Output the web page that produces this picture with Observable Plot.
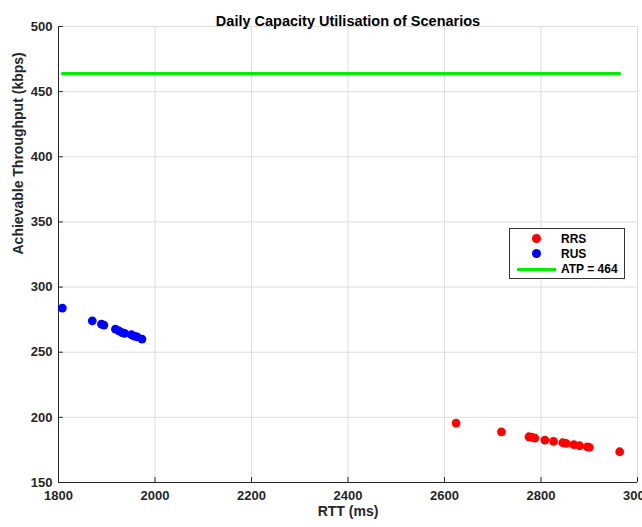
<!DOCTYPE html>
<html>
<head>
<meta charset="utf-8">
<script src="https://cdn.jsdelivr.net/npm/d3@7"></script>
<script src="https://cdn.jsdelivr.net/npm/@observablehq/plot@0.6"></script>
<style>
  html, body { margin: 0; padding: 0; background: #fff; }
  #wrap { position: relative; width: 642px; height: 527px; overflow: hidden; font-family: "Liberation Sans", Arial, sans-serif; }
  #legend { position: absolute; left: 509px; top: 228px; width: 114px; height: 49px; border: 1px solid #333; background: #fff; font-weight: bold; font-size: 12px; color: #000; }
  #legend .row { position: absolute; left: 0; height: 14px; width: 100%; }
  #legend .dot { position: absolute; left: 22px; top: 2px; width: 9px; height: 9px; border-radius: 50%; }
  #legend .line { position: absolute; left: 7px; top: 6px; width: 39px; height: 3px; background: #00ee00; }
  #legend .lbl { position: absolute; left: 51px; top: 0; line-height: 14px; }
</style>
</head>
<body>
<div id="wrap"></div>
<script>
const rrsRTT = [2624, 2718, 2775, 2782, 2787, 2808, 2826, 2845, 2852, 2868, 2880, 2896, 2900, 2963];
const rrsThr = [195.6, 188.9, 185.1, 184.6, 184.1, 182.6, 181.5, 180.5, 180.0, 179.0, 178.2, 177.4, 176.9, 173.6];
const rusRTT = [1808, 1870, 1889, 1894, 1918, 1925, 1932, 1937, 1951, 1957, 1963, 1973];
const rusThr = [283.9, 274.1, 271.6, 270.8, 267.7, 266.4, 265.1, 264.4, 263.4, 262.4, 261.8, 260.1];
const atpValue = 464;
const atpRange = [1808, 2963];
const xTicks = [1800, 2000, 2200, 2400, 2600, 2800, 3000];
const yTicks = [150, 200, 250, 300, 350, 400, 450, 500];
const seriesNames = ["RRS", "RUS", "ATP = 464"];
const colors = { RRS: "#ff0000", RUS: "#0000ff", ATP: "#00ee00" };

const rrs = rrsRTT.map((x, i) => ({ x, y: rrsThr[i] }));
const rus = rusRTT.map((x, i) => ({ x, y: rusThr[i] }));
const atp = atpRange.map(x => ({ x, y: atpValue }));

const chart = Plot.plot({
  width: 642,
  height: 527,
  marginLeft: 58,
  marginRight: 5,
  marginTop: 26,
  marginBottom: 45,
  style: { fontFamily: "'Liberation Sans', Arial, sans-serif", fontWeight: "bold", fontSize: "13px", color: "#262626", background: "#fff", overflow: "visible" },
  x: { domain: [1800, 3000], ticks: xTicks, tickFormat: d3.format("d") },
  y: { domain: [150, 500], ticks: yTicks, tickFormat: d3.format("d") },
  marks: [
    Plot.gridX(xTicks, { stroke: "#dedede", strokeOpacity: 1 }),
    Plot.gridY(yTicks, { stroke: "#dedede", strokeOpacity: 1 }),
    Plot.ruleX(xTicks, { x: d => d, y1: 150, y2: 153.8, stroke: "#262626" }),
    Plot.ruleY(yTicks, { y: d => d, x1: 1800, x2: 1810, stroke: "#262626" }),
    Plot.ruleX([1800], { stroke: "#262626" }),
    Plot.ruleY([150], { stroke: "#262626" }),
    Plot.axisX(xTicks, { tickSize: 0, tickPadding: 8, label: null, fill: "#262626", tickFormat: d3.format("d") }),
    Plot.axisY(yTicks, { tickSize: 0, tickPadding: 6, label: null, fill: "#262626", tickFormat: d3.format("d") }),
    Plot.line(atp, { x: "x", y: "y", stroke: colors.ATP, strokeWidth: 3 }),
    Plot.dot(rrs, { x: "x", y: "y", r: 4.4, fill: colors.RRS }),
    Plot.dot(rus, { x: "x", y: "y", r: 4.4, fill: colors.RUS }),
    Plot.text(["Daily Capacity Utilisation of Scenarios"], { frameAnchor: "top", dy: -11, fontSize: 14.5, fill: "#000" }),
    Plot.text(["RTT (ms)"], { frameAnchor: "bottom", dy: 33, fontSize: 14, fill: "#262626" }),
    Plot.text(["Achievable Throughput (kbps)"], { frameAnchor: "left", dx: -40, rotate: -90, fontSize: 14, fill: "#262626" })
  ]
});

const wrap = document.getElementById("wrap");
wrap.appendChild(chart);

const legend = document.createElement("div");
legend.id = "legend";
const items = [
  { name: seriesNames[0], kind: "dot", color: colors.RRS },
  { name: seriesNames[1], kind: "dot", color: colors.RUS },
  { name: seriesNames[2], kind: "line", color: colors.ATP }
];
items.forEach((it, i) => {
  const row = document.createElement("div");
  row.className = "row";
  row.style.top = (3 + i * 15) + "px";
  const sym = document.createElement("div");
  sym.className = it.kind;
  sym.style.background = it.color;
  const lbl = document.createElement("div");
  lbl.className = "lbl";
  lbl.textContent = it.name;
  row.appendChild(sym);
  row.appendChild(lbl);
  legend.appendChild(row);
});
wrap.appendChild(legend);
</script>
</body>
</html>
